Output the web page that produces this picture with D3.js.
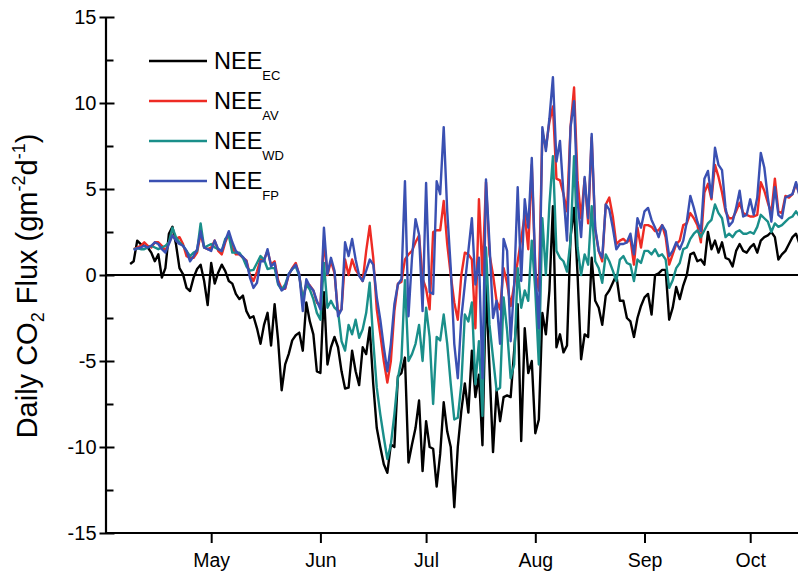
<!DOCTYPE html>
<html>
<head>
<meta charset="utf-8">
<script src="https://cdn.jsdelivr.net/npm/d3@7"></script>
<style>
  html, body { margin: 0; padding: 0; background: #fff; }
  svg { display: block; font-family: Arial, "Liberation Sans", sans-serif; }
</style>
</head>
<body>
<svg id="chart" width="798" height="572"></svg>
<script>
// Daily net ecosystem exchange of CO2 (g m-2 d-1), one value per day.
const startEC = "2010-04-08";     // first day of the eddy-covariance record
const startModel = "2010-04-09";  // first day of the three gap-filled records

const neeEC = [
  0.64,0.8,2.0,1.8,1.7,1.6,1.3,0.8,1.2,-0.15,
  0.4,2.4,2.8,1.8,0.4,0.05,-0.75,-0.93,-0.15,0.35,
  0.6,-0.35,-1.75,0.7,-0.5,0.15,0.6,0.23,-0.35,-0.5,
  -1.1,-1.4,-1.2,-2.1,-2.5,-2.4,-3.1,-4.0,-2.9,-2.2,
  -4.1,-1.7,-3.8,-6.7,-5.2,-4.6,-3.8,-3.5,-3.35,-4.4,
  -1.6,-2.7,-3.45,-5.6,-5.7,-1.0,-5.2,-4.2,-3.6,-4.2,
  -5.6,-6.6,-6.55,-4.4,-5.6,-6.4,-4.2,-4.6,-3.05,-6.35,
  -8.9,-10.0,-11.0,-11.5,-9.85,-10.0,-5.9,-5.7,-4.8,-10.9,
  -9.85,-8.9,-7.3,-11.4,-8.5,-10.0,-10.1,-12.3,-10.4,-7.4,
  -9.1,-10.0,-13.5,-10.0,-7.9,-6.3,-8.0,-4.4,-7.1,-5.8,
  -9.9,-0.6,-5.4,-10.3,-6.7,-8.5,-7.1,-7.0,-7.1,-4.4,
  -1.7,-9.65,-3.1,-5.7,-5.0,-9.2,-8.4,-2.2,-3.45,-0.9,
  4.0,-4.2,-3.45,-4.5,-4.1,2.2,3.9,0.0,-4.9,-3.45,
  -3.6,1.0,-1.5,-1.9,-2.9,-1.2,-0.9,-0.45,0.0,-1.5,
  -1.5,-2.5,-2.7,-3.6,-2.5,-1.8,-1.3,-1.1,-2.3,0.0,
  0.1,0.3,0.3,-2.6,-1.9,-0.7,-1.4,-0.6,0.0,1.2,
  1.3,0.8,0.9,0.6,2.5,1.5,2.0,1.3,1.9,1.0,
  0.9,0.5,1.4,1.8,1.4,1.3,1.6,1.8,1.3,2.0,
  2.2,2.3,2.5,2.2,0.9,1.2,1.4,1.8,2.2,2.4,
  1.8
];

const neeAV = [
  1.5,1.6,1.7,1.9,1.7,1.6,1.9,1.9,1.7,1.4,
  1.9,2.3,2.1,2.2,1.8,1.1,1.0,1.0,1.3,2.4,
  1.6,1.5,1.6,2.0,1.4,1.2,1.9,2.4,1.6,1.2,
  1.2,1.0,0.85,0.0,-0.35,0.2,0.9,
  0.9,1.4,0.6,0.8,-0.3,-0.8,-0.8,0.0,0.4,0.7,
  0.0,-1.5,-0.5,-0.6,-0.9,-1.6,-1.8,2.0,0.0,0.8,
  0.1,-2.2,-2.0,0.9,0.0,0.9,0.3,0.0,-0.35,1.4,
  2.85,1.0,-2.0,-3.45,-5.0,-6.25,-5.0,-2.1,
  -0.5,-0.4,0.9,1.2,1.4,1.9,2.3,-0.2,-0.8,-2.0,
  2.5,2.6,2.6,4.3,1.8,0.0,-1.6,-2.6,0.0,1.3,
  1.2,0.9,-3.1,4.4,0.0,5.4,1.2,0.0,-1.5,-2.0,
  0.4,-0.5,-1.8,-0.6,0.8,2.1,3.5,1.5,6.4,
  0.2,-0.9,8.3,7.4,8.9,9.8,5.6,5.5,4.7,3.7,
  8.6,10.9,5.5,3.3,5.6,3.0,8.0,2.6,1.4,0.8,
  4.1,4.5,3.4,1.8,2.0,2.1,1.9,2.1,0.6,2.75,
  1.6,2.9,2.9,2.8,2.55,2.6,2.9,2.2,
  0.6,1.2,1.8,2.0,2.9,3.0,3.6,3.3,2.9,1.9,
  4.8,5.3,4.4,6.4,5.7,4.8,3.7,3.3,3.3,3.7,
  4.2,3.6,3.5,3.4,3.4,3.5,5.4,4.9,4.2,3.6,
  5.6,3.7,3.6,4.6,4.5,4.7,5.3,4.7
];

const neeWD = [
  1.5,1.55,1.5,1.5,1.6,1.7,1.6,1.5,1.6,1.7,
  1.9,2.75,2.2,1.9,1.7,1.4,1.1,1.3,1.4,3.0,
  1.6,1.7,1.8,1.6,1.5,1.4,2.1,2.3,1.3,1.3,
  1.3,1.0,0.5,0.25,0.3,0.7,1.1,
  0.9,0.35,0.4,0.4,-0.55,-0.85,-0.55,0.05,0.35,0.5,
  -0.05,-1.4,-0.55,-0.85,-1.4,-2.2,-2.6,0.7,-1.9,-1.5,
  -1.9,-2.1,-3.85,-4.4,-2.9,-3.45,-2.6,-3.65,-3.15,-2.2,
  -0.45,-3.85,-6.55,-8.1,-9.45,-10.7,-9.85,-8.1,
  -6.0,-4.9,-0.3,-5.0,-4.6,-4.0,-2.9,-5.0,-1.9,-3.6,
  -7.5,-3.6,-3.8,-2.3,-4.0,-6.35,-8.4,-8.3,-6.35,-2.3,
  -2.7,-1.6,-6.35,-3.85,-8.2,1.6,-2.9,-4.8,-6.7,-6.55,
  -1.3,-3.25,-6.0,-5.2,0.4,-1.9,-0.9,-1.5,2.0,
  -0.9,-5.2,3.3,0.0,4.1,6.9,1.4,1.0,0.8,0.2,
  2.0,6.9,1.6,0.0,1.2,0.6,4.0,0.8,0.4,-0.45,
  1.2,0.8,0.25,-0.35,0.9,1.1,0.7,0.6,-0.35,0.9,
  0.7,1.4,1.4,1.2,1.5,1.1,1.2,0.9,
  -0.75,-0.3,0.4,0.7,1.5,1.6,2.1,2.4,2.6,2.2,
  2.6,3.0,3.2,4.1,3.6,3.3,2.2,2.4,2.2,2.5,
  2.6,2.4,2.4,2.5,2.4,2.8,3.5,3.3,3.1,2.5,
  3.0,2.8,2.9,3.1,3.3,3.4,3.7,3.4
];

const neeFP = [
  1.45,1.55,1.6,1.7,1.6,1.7,1.9,1.8,1.5,1.3,
  1.8,2.3,2.0,1.8,1.7,1.4,0.8,1.1,1.5,2.55,
  1.6,1.5,1.4,2.0,1.5,1.4,2.0,2.55,1.9,1.4,
  1.2,1.05,0.8,-0.15,-0.75,-0.45,0.8,
  0.8,1.5,0.5,0.7,-0.45,-0.9,-0.75,0.05,0.35,0.6,
  0.05,-2.1,-0.25,-0.65,-0.9,-1.5,-2.0,2.75,0.05,1.0,
  0.25,-2.4,-2.0,1.9,1.1,2.1,0.9,-0.05,-0.35,0.25,
  0.9,0.6,-1.3,-2.6,-4.2,-5.6,-4.0,-1.7,
  -0.55,-0.25,5.45,-2.4,1.0,3.25,2.35,-2.1,5.35,-1.0,
  -1.1,5.45,4.7,8.6,3.7,0.4,-4.0,-6.0,-2.5,-0.55,
  1.4,3.3,-0.55,1.0,-6.0,5.55,1.8,-2.5,-1.5,-4.0,
  2.1,1.4,-3.85,-0.55,5.1,-0.35,4.4,2.75,6.8,
  0.4,-3.1,8.6,7.2,9.1,11.5,6.6,7.8,4.7,2.0,
  8.6,10.1,4.3,2.2,5.7,3.3,8.2,2.75,1.4,1.0,
  4.1,3.8,2.75,1.5,1.8,1.8,1.9,2.4,1.2,3.3,
  2.75,3.7,3.9,3.2,2.75,2.2,2.9,2.55,
  1.1,1.4,1.9,1.5,2.0,3.1,4.6,3.9,3.1,2.55,
  5.6,6.05,4.5,7.4,6.4,6.1,3.9,2.85,3.1,3.9,
  4.9,3.4,3.5,4.4,3.5,4.5,7.1,6.25,4.5,3.1,
  5.1,3.5,3.3,4.5,4.6,4.7,5.4,4.6
];

const monthTicks = ["2010-05-01","2010-06-01","2010-07-01","2010-08-01","2010-09-01","2010-10-01"];
const yMajorTicks = [-15, -10, -5, 0, 5, 10, 15];
const yMinorTicks = [-12.5, -7.5, -2.5, 2.5, 7.5, 12.5];

const series = [
  { sub: "EC", color: "#000000", start: startEC,    values: neeEC },
  { sub: "AV", color: "#ee2b24", start: startModel, values: neeAV },
  { sub: "WD", color: "#1a8f8a", start: startModel, values: neeWD },
  { sub: "FP", color: "#3a50b2", start: startModel, values: neeFP }
];

const FONT = "Arial, 'Liberation Sans', sans-serif";
const svg = d3.select("#chart");
const parse = d3.utcParse("%Y-%m-%d");

const plot = { left: 105.5, top: 17, bottom: 533 };
const x = d3.scaleUtc()
  .domain([parse("2010-04-01"), parse("2010-10-17")])
  .range([plot.left, plot.left + 199 * 3.523]);
const y = d3.scaleLinear().domain([-15, 15]).range([plot.bottom, plot.top]);

svg.append("clipPath").attr("id", "plotClip")
  .append("rect").attr("x", plot.left).attr("y", 0)
  .attr("width", 798 - plot.left).attr("height", 572);

// zero reference line
svg.append("line")
  .attr("x1", plot.left).attr("x2", 798)
  .attr("y1", y(0)).attr("y2", y(0))
  .attr("stroke", "#000").attr("stroke-width", 2.2);

// series lines
const line = d3.line()
  .x(d => x(d.date))
  .y(d => y(d.value));

const lineLayer = svg.append("g").attr("clip-path", "url(#plotClip)");
series.forEach(s => {
  const start = parse(s.start);
  const pts = s.values.map((v, i) => ({ date: d3.utcDay.offset(start, i), value: v }));
  lineLayer.append("path")
    .datum(pts)
    .attr("fill", "none")
    .attr("stroke", s.color)
    .attr("stroke-width", 2.4)
    .attr("stroke-linejoin", "round")
    .attr("d", line);
});

// x axis
const xAxis = d3.axisBottom(x)
  .tickValues(monthTicks.map(parse))
  .tickFormat(d3.utcFormat("%b"))
  .tickSizeInner(10).tickSizeOuter(0).tickPadding(10);
const gx = svg.append("g").attr("transform", `translate(0,${plot.bottom})`).call(xAxis);
gx.select(".domain").attr("stroke-width", 2.2).attr("d", `M${plot.left},0H798`);
gx.selectAll(".tick line").attr("stroke-width", 2);
gx.selectAll(".tick text").attr("font-size", 19.5).attr("fill", "#000").attr("font-family", FONT);

// y axis: major ticks cross the axis line, minor ticks point into the plot
const yAxis = d3.axisLeft(y)
  .tickValues(yMajorTicks)
  .tickFormat(d => String(d))
  .tickSizeInner(-9).tickSizeOuter(0).tickPadding(9);
const gy = svg.append("g").attr("transform", `translate(${plot.left},0)`).call(yAxis);
gy.select(".domain").attr("stroke-width", 2.2);
gy.selectAll(".tick line").attr("x1", -6).attr("stroke-width", 2);
gy.selectAll(".tick text").attr("font-size", 20).attr("fill", "#000").attr("font-family", FONT);

const yMinor = d3.axisLeft(y).tickValues(yMinorTicks).tickSizeInner(-8).tickSizeOuter(0).tickFormat("");
const gyMinor = svg.append("g").attr("transform", `translate(${plot.left},0)`).call(yMinor);
gyMinor.select(".domain").remove();
gyMinor.selectAll(".tick line").attr("stroke-width", 2);

// y axis title
const yTitle = svg.append("text")
  .attr("transform", `translate(37,286) rotate(-90)`)
  .attr("text-anchor", "middle")
  .attr("font-size", 29)
  .attr("fill", "#000");
yTitle.append("tspan").text("Daily CO");
yTitle.append("tspan").attr("font-size", 18).attr("dy", 7).text("2");
yTitle.append("tspan").attr("dy", -7).text(" Flux (gm");
yTitle.append("tspan").attr("font-size", 18).attr("dy", -12).text("-2");
yTitle.append("tspan").attr("dy", 12).text("d");
yTitle.append("tspan").attr("font-size", 18).attr("dy", -12).text("-1");
yTitle.append("tspan").attr("dy", 12).text(")");

// legend
const legend = svg.append("g");
series.forEach((s, i) => {
  const cy = 61 + i * 40;
  legend.append("line")
    .attr("x1", 149).attr("x2", 207)
    .attr("y1", cy).attr("y2", cy)
    .attr("stroke", s.color).attr("stroke-width", 2.4);
  const t = legend.append("text")
    .attr("x", 214).attr("y", cy + 8)
    .attr("font-size", 23.5).attr("fill", "#000");
  t.append("tspan").text("NEE");
  t.append("tspan").attr("font-size", 13).attr("dy", 11).text(s.sub);
});
</script>
</body>
</html>
